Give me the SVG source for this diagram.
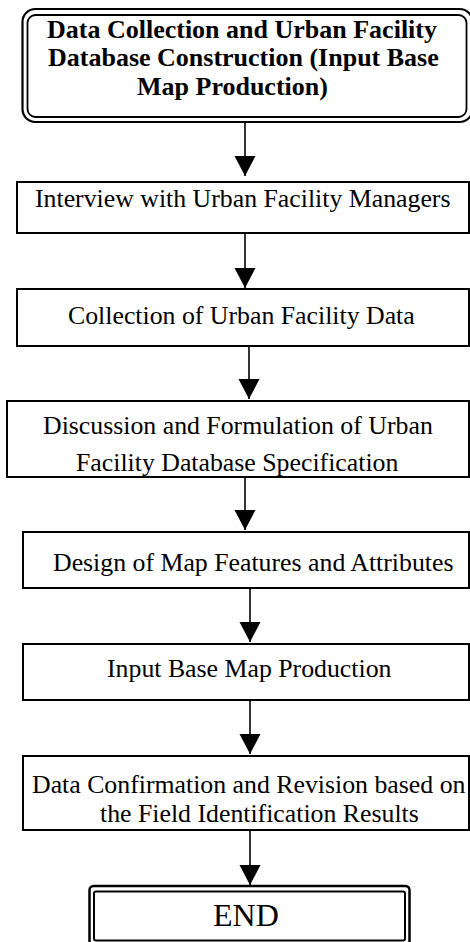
<svg xmlns="http://www.w3.org/2000/svg" width="470" height="942" viewBox="0 0 470 942">
<style>
.box{fill:#fff;stroke:#000;stroke-width:2}
.t{font-family:"Liberation Serif","Times New Roman",serif;font-size:25.8px;fill:#000}
.tb{font-family:"Liberation Serif","Times New Roman",serif;font-size:26px;font-weight:bold;fill:#000}
.conn line{stroke:#000;stroke-width:1.6}
</style>
<defs>
<marker id="ah" markerUnits="userSpaceOnUse" markerWidth="22" markerHeight="22" refX="20" refY="10.5" orient="auto">
<path d="M0,0 L20,10.5 L0,21 Z" fill="#000"/>
</marker>
</defs>
<rect width="470" height="942" fill="#fff"/>
<g id="connectors" class="conn">
<line x1="245" y1="122" x2="245" y2="176" marker-end="url(#ah)"/>
<line x1="245" y1="233" x2="245" y2="288" marker-end="url(#ah)"/>
<line x1="249" y1="346" x2="249" y2="399" marker-end="url(#ah)"/>
<line x1="245" y1="477" x2="245" y2="530" marker-end="url(#ah)"/>
<line x1="250" y1="588" x2="250" y2="642" marker-end="url(#ah)"/>
<line x1="250" y1="700" x2="250" y2="754" marker-end="url(#ah)"/>
<line x1="250" y1="830" x2="250" y2="885" marker-end="url(#ah)"/>
</g>
<g id="start">
<rect x="22.5" y="9" width="450" height="113" rx="13" fill="#fff" stroke="#000" stroke-width="2.2"/>
<rect x="27.5" y="15" width="439" height="102" rx="8" fill="none" stroke="#000" stroke-width="1.8"/>
<text class="tb" x="47" y="38">Data Collection and Urban Facility</text>
<text class="tb" x="48" y="66">Database Construction (Input Base</text>
<text class="tb" x="137" y="95">Map Production)</text>
</g>
<g id="interview">
<rect class="box" x="17" y="182" width="452" height="51"/>
<text class="t" x="35" y="207">Interview with Urban Facility Managers</text>
</g>
<g id="collection">
<rect class="box" x="17" y="289" width="452" height="57"/>
<text class="t" x="68" y="324">Collection of Urban Facility Data</text>
</g>
<g id="discussion">
<rect class="box" x="7" y="401" width="462" height="76"/>
<text class="t" x="43" y="434">Discussion and Formulation of Urban</text>
<text class="t" x="76" y="471">Facility Database Specification</text>
</g>
<g id="design">
<rect class="box" x="23" y="532" width="446" height="56"/>
<text class="t" x="53" y="571">Design of Map Features and Attributes</text>
</g>
<g id="inputmap">
<rect class="box" x="23" y="644" width="446" height="56"/>
<text class="t" x="107" y="677">Input Base Map Production</text>
</g>
<g id="confirmation">
<rect class="box" x="23" y="756" width="446" height="74"/>
<text class="t" x="32" y="793">Data Confirmation and Revision based on</text>
<text class="t" x="100" y="822">the Field Identification Results</text>
</g>
<g id="end">
<rect x="89.5" y="886" width="320" height="60" rx="4" fill="#fff" stroke="#000" stroke-width="2.5"/>
<rect x="94" y="891.5" width="311" height="49" rx="2" fill="none" stroke="#000" stroke-width="2"/>
<text class="t" x="213" y="926" style="font-size:32px">END</text>
</g>
</svg>
